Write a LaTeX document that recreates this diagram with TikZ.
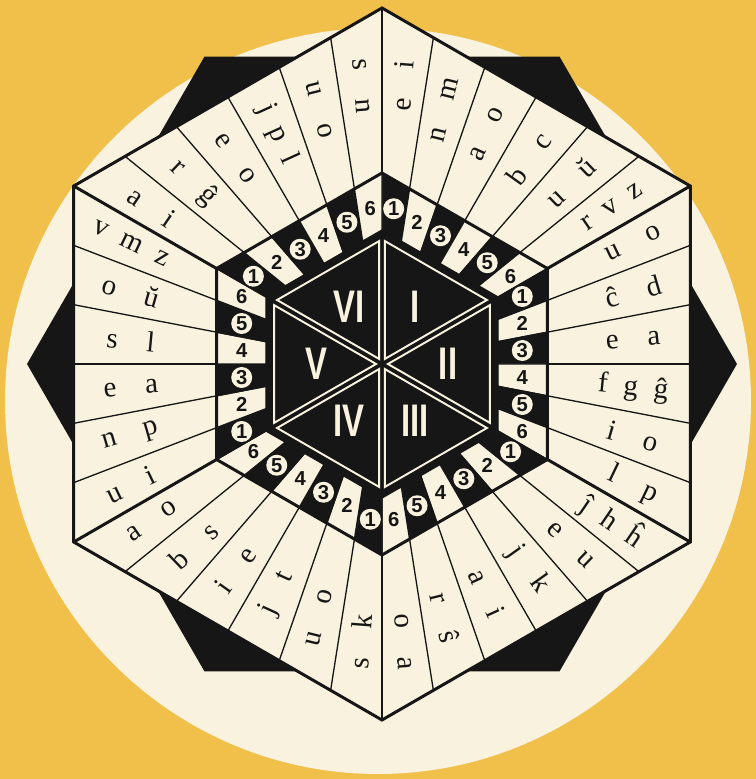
\documentclass[tikz,border=0pt]{standalone}
\usepackage{fontspec}
\usetikzlibrary{calc}
\setmainfont{Liberation Serif}
\newfontfamily\numfont{Liberation Sans}
\newfontfamily\romfont[FakeStretch=0.72]{Liberation Sans}
\definecolor{ochre}{HTML}{F1C04A}
\definecolor{cream}{HTML}{F8F2DF}
\definecolor{ink}{HTML}{161616}
\newcommand\lsp{\hspace{0.55em}}

\begin{document}
\begin{tikzpicture}[x=0.02cm, y=0.02cm,
    rim/.style={draw=ink, line width=1.7pt, line join=miter},
    strip/.style={draw=ink, line width=0.75pt},
    wedge/.style={draw=cream, line width=1.1pt, line join=miter},
    letters/.style={font=\fontsize{16.5}{18}\selectfont, text=ink, inner sep=0pt},
    digit/.style={font=\numfont\bfseries\fontsize{11.5}{13}\selectfont, text=ink, inner sep=0pt},
    disc/.style={digit, circle, fill=cream, minimum size=0.42cm},
    roman/.style={font=\romfont\bfseries\fontsize{26}{28}\selectfont, text=cream, inner sep=0pt},
  ]
  % ground and pale disc
  \fill[ochre] (0,0) rectangle (756,779);
  \fill[cream] (378,378) circle[radius=373];

  \begin{scope}[shift={(382,415)}]
    % black hexagon behind the board
    \fill[ink] (0:355) \foreach \a in {60,120,...,300}{ -- (\a:355)} -- cycle;
    % board
    \filldraw[fill=cream, rim] (90:356) \foreach \a in {30,-30,...,-210}{ -- (\a:356)} -- cycle;

    % number ring cells and letter strips
    \foreach \k in {1,...,6}{
      \foreach \j in {1,...,6}{
        \pgfmathsetmacro\angA{150-60*\k}
        \pgfmathsetmacro\angB{\angA-60}
        \pgfmathsetmacro\tA{(\j-1)/6}
        \pgfmathsetmacro\tB{\j/6}
        \ifodd\j \def\cellcol{ink}\else \def\cellcol{cream}\fi
        \filldraw[strip, fill=\cellcol] ($(\angA:134)!\tA!(\angB:134)$) -- ($(\angA:191)!\tA!(\angB:191)$)
          -- ($(\angA:191)!\tB!(\angB:191)$) -- ($(\angA:134)!\tB!(\angB:134)$) -- cycle;
        \draw[strip] ($(\angA:191)!\tA!(\angB:191)$) -- ($(\angA:356)!\tA!(\angB:356)$);
      }
    }
    \draw[rim] (90:191) \foreach \a in {30,-30,...,-210}{ -- (\a:191)} -- cycle;
    \foreach \a in {90,30,...,-210} \draw[rim] (\a:191) -- (\a:356);

    % centre hexagon
    \fill[ink] (90:134) \foreach \a in {30,-30,...,-210}{ -- (\a:134)} -- cycle;
    \foreach \k/\rnum in {1/I,2/II,3/III,4/IV,5/V,6/VI}{
      \pgfmathsetmacro\angA{150-60*\k}
      \pgfmathsetmacro\angB{\angA-60}
      \pgfmathsetmacro\angM{\angA-30}
      \draw[wedge, scale around={0.92:(\angM:73.9)}] (0,0) -- (\angA:128) -- (\angB:128) -- cycle;
      \node[roman] (r\k) at (\angM:66) {\rnum};
    }

    % digits
    \foreach \k in {1,...,6}{
      \foreach \j in {1,...,6}{
        \pgfmathsetmacro\angA{150-60*\k}
        \pgfmathsetmacro\angB{\angA-60}
        \pgfmathsetmacro\tM{(\j-0.5)/6}
        \ifodd\j
          \node[disc] (d\k\j) at ($(\angA:162)!\tM!(\angB:162)$) {\j};
        \else
          \node[digit] (d\k\j) at ($(\angA:162)!\tM!(\angB:162)$) {\j};
        \fi
      }
    }

    % letters
    \foreach \k/\j/\txt in {
        1/1/{e\quad i}, 1/2/{n\quad m}, 1/3/{a\quad o}, 1/4/{b\quad c}, 1/5/{u\quad ŭ}, 1/6/{r\lsp v\lsp z},
        2/1/{u\quad o}, 2/2/{ĉ\quad d}, 2/3/{e\quad a}, 2/4/{f\lsp g\lsp ĝ}, 2/5/{i\quad o}, 2/6/{l\quad p},
        3/1/{ĵ\lsp h\lsp ĥ}, 3/2/{e\quad u}, 3/3/{j\quad k}, 3/4/{a\quad i}, 3/5/{r\quad ŝ}, 3/6/{o\quad a},
        4/1/{s\quad k}, 4/2/{u\quad o}, 4/3/{j\quad t}, 4/4/{i\quad e}, 4/5/{b\quad s}, 4/6/{a\quad o},
        5/1/{u\quad i}, 5/2/{n\quad p}, 5/3/{e\quad a}, 5/4/{s\quad l}, 5/5/{o\quad ŭ}, 5/6/{v\lsp m\lsp z},
        6/1/{a\quad i}, 6/2/{r\quad ĝ}, 6/3/{e\quad o}, 6/4/{j\lsp p\lsp l}, 6/5/{u\quad o}, 6/6/{s\quad n}}{
      \pgfmathsetmacro\angA{150-60*\k}
      \pgfmathsetmacro\angB{\angA-60}
      \pgfmathsetmacro\tM{(\j-0.5)/6}
      \pgfmathsetmacro\dirAng{120-60*\k-atan((\tM-0.5)/0.866025)}
      \pgfmathsetmacro\rotAng{\dirAng-180*round(\dirAng/180)}
      \node[letters, rotate=\rotAng] (w\k\j) at ($(\angA:290)!\tM!(\angB:290)$) {\txt};
    }
  \end{scope}
\end{tikzpicture}
\end{document}
